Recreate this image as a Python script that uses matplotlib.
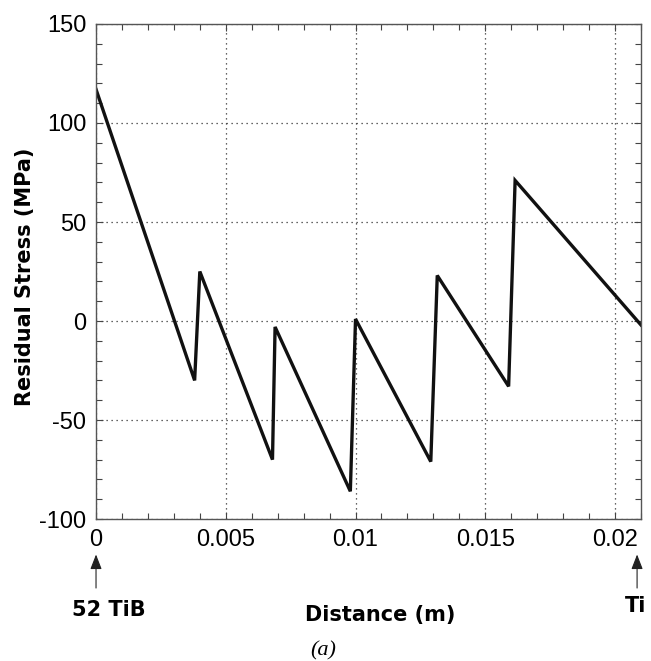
import matplotlib.pyplot as plt
from matplotlib.ticker import MultipleLocator

plt.rcParams['font.family'] = ['Liberation Sans', 'DejaVu Sans']
plt.rcParams['axes.unicode_minus'] = False

# residual stress profile
distance = [0.0, 0.0038, 0.0040, 0.0068, 0.0069, 0.0098, 0.0100,
            0.0129, 0.01315, 0.0159, 0.01615, 0.0210]
stress = [117, -30, 25, -70, -3, -86, 1, -71, 23, -33, 71, -2]

fig = plt.figure(figsize=(6.51, 6.61), dpi=100)
ax = fig.add_axes([0.1475, 0.2148, 0.8371, 0.7489])

ax.plot(distance, stress, color='#111111', lw=2.4, solid_joinstyle='miter')

ax.set_xlim(0, 0.021)
ax.set_ylim(-100, 150)
ax.xaxis.set_major_locator(MultipleLocator(0.005))
ax.xaxis.set_minor_locator(MultipleLocator(0.001))
ax.yaxis.set_major_locator(MultipleLocator(50))
ax.yaxis.set_minor_locator(MultipleLocator(10))
ax.set_xticks([0, 0.005, 0.01, 0.015, 0.02])
ax.set_xticklabels(['0', '0.005', '0.01', '0.015', '0.02'])

ax.grid(True, which='major', color='#333333', linestyle=(0, (1, 3)), lw=0.9)
ax.tick_params(which='both', direction='in', top=True, right=True,
               color='#444444', width=0.8)
ax.tick_params(which='major', length=5, labelsize=17, pad=7)
ax.tick_params(which='minor', length=4)
for s in ax.spines.values():
    s.set_color('#555555')
    s.set_linewidth(1.0)

bold = dict(fontsize=15, fontweight='bold', family=['DejaVu Sans'])
ax.set_ylabel('Residual Stress (MPa)', va='center', **bold)
ax.yaxis.set_label_coords(-0.130, 0.49)
fig.text(0.584, 0.070, 'Distance (m)', ha='center', va='center', **bold)
fig.text(0.496, 0.016, '(a)', fontsize=16, style='italic',
         family=['Liberation Serif', 'DejaVu Serif'], ha='center', va='center')

# material markers under the axis
arrow_kw = dict(arrowstyle='-|>,head_length=0.9,head_width=0.35',
                color='#222222', lw=0.8)
ax.annotate('', xy=(0.0, -0.066), xytext=(0.0, -0.145),
            xycoords=('data', 'axes fraction'), arrowprops=arrow_kw)
ax.annotate('', xy=(0.02085, -0.066), xytext=(0.02085, -0.145),
            xycoords=('data', 'axes fraction'), arrowprops=arrow_kw)
ax.text(0.0005, -0.184, '52 TiB', transform=ax.get_xaxis_transform(),
        ha='center', va='center', **bold)
ax.text(0.02080, -0.176, 'Ti', transform=ax.get_xaxis_transform(),
        ha='center', va='center', **bold)

fig.savefig('out.png', dpi=100)
